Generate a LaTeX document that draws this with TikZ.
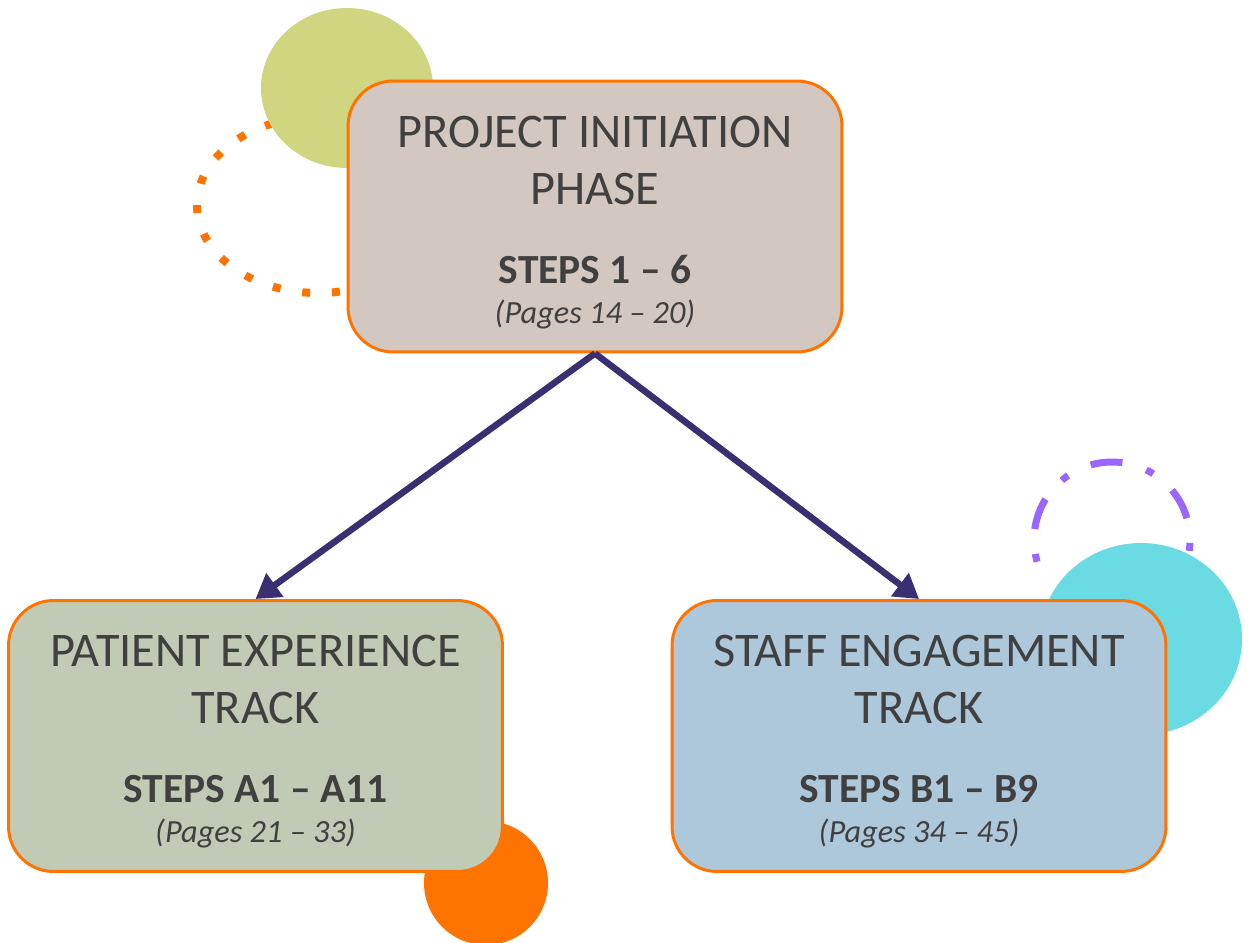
\documentclass[tikz,border=0pt]{standalone}
\usepackage{fontspec}
\setmainfont{Carlito}
\usetikzlibrary{arrows.meta,positioning}
\definecolor{boxorange}{HTML}{FF7300}
\definecolor{textgray}{HTML}{404040}
\definecolor{arrownavy}{HTML}{3A2F70}
\definecolor{initfill}{HTML}{D2C8C1}
\definecolor{patientfill}{HTML}{C1CAB4}
\definecolor{stafffill}{HTML}{ADC8DB}
\definecolor{limegreen}{HTML}{CFD67F}
\definecolor{aquablue}{HTML}{6ADBE3}
\definecolor{lilac}{HTML}{9966FF}
\tikzset{
    track box/.style={rectangle, draw=boxorange, line width=1.7pt, rounded corners=0.9cm,
        minimum width=9.88cm, minimum height=5.42cm, inner sep=0pt},
    track text/.style={anchor=base, inner sep=0pt, text=textgray},
    track title/.style={track text, font=\fontsize{27.5}{32}\selectfont},
    track steps/.style={track text, font=\bfseries\fontsize{23.6}{28}\selectfont},
    track pages/.style={track text, font=\itshape\fontsize{18.4}{22}\selectfont},
    flow arrow/.style={-{Triangle[length=0.48cm,width=0.56cm]}, draw=arrownavy, line width=0.13cm}
}
\begin{document}
\begin{tikzpicture}[x=0.02cm,y=-0.02cm]
	\useasboundingbox (0,0) rectangle (1251,943);
	% decorations behind the boxes
	\draw[lilac, line width=0.14cm, dash pattern=on 0.16cm off 0.5cm on 0.64cm off 0.5cm]
		(1112,540) ++(8:78) arc [start angle=8, end angle=-202, radius=78];
	\fill[aquablue] (1141,639) ellipse [x radius=101, y radius=96];
	\draw[boxorange, line width=0.16cm, dash pattern=on 0.16cm off 0.437cm, dash phase=0.12cm]
		(318,205) ellipse [x radius=121, y radius=88];
	\fill[limegreen] (347,88) ellipse [x radius=86, y radius=80];
	\fill[boxorange] (486,883) circle [radius=62];
	% boxes
	\node[track box, fill=initfill] (init) at (595,216.5) {};
	\node[track box, fill=patientfill] (patient) at (255.5,736) {};
	\node[track box, fill=stafffill] (staff) at (919,736) {};
	% texts
	\node[track title] (init-l1) at (595,147) {PROJECT INITIATION};
	\node[track title] (init-l2) at (595,204) {PHASE};
	\node[track steps] (init-s) at (595,283) {STEPS 1 – 6};
	\node[track pages] (init-p) at (595,323) {(Pages 14 – 20)};
	\node[track title] (patient-l1) at (255.5,666) {PATIENT EXPERIENCE};
	\node[track title] (patient-l2) at (255.5,723) {TRACK};
	\node[track steps] (patient-s) at (255.5,802) {STEPS A1 – A11};
	\node[track pages] (patient-p) at (255.5,842) {(Pages 21 – 33)};
	\node[track title] (staff-l1) at (919,666) {STAFF ENGAGEMENT};
	\node[track title] (staff-l2) at (919,723) {TRACK};
	\node[track steps] (staff-s) at (919,802) {STEPS B1 – B9};
	\node[track pages] (staff-p) at (919,842) {(Pages 34 – 45)};
	% arrows
	\draw[flow arrow] (init.south) -- (patient.north);
	\draw[flow arrow] (init.south) -- (staff.north);
\end{tikzpicture}
\end{document}
